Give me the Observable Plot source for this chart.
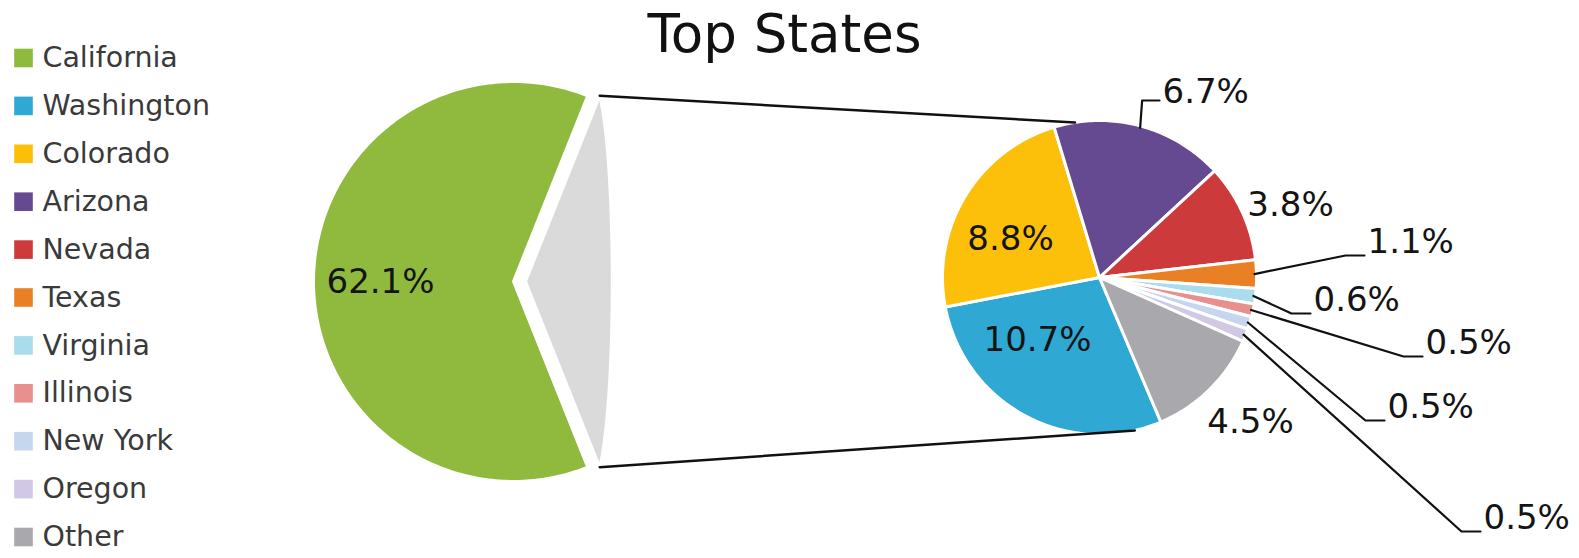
<!DOCTYPE html>
<html>
<head>
<meta charset="utf-8">
<script src="https://cdn.jsdelivr.net/npm/d3@7"></script>
<script src="https://cdn.jsdelivr.net/npm/@observablehq/plot@0.6"></script>
<style>
  body { margin: 0; background: #fff; }
  #chart svg { display: block; }
</style>
</head>
<body>
<div id="chart"></div>
<script>
// ---------------- data ----------------
const mainCategories = ["California", "All others"];
const mainShares = [62.1, 37.9];

const subCategories = ["Washington", "Colorado", "Arizona", "Nevada", "Texas",
  "Virginia", "Illinois", "New York", "Oregon", "Other"];
const subShares = [10.7, 8.8, 6.7, 3.8, 1.1, 0.6, 0.5, 0.5, 0.5, 4.5];

const legendNames = ["California", "Washington", "Colorado", "Arizona", "Nevada",
  "Texas", "Virginia", "Illinois", "New York", "Oregon", "Other"];

const colorDomain = ["California", "All others", ...subCategories];
const colorRange = ["#8fba3e", "#dadada", "#2fa8d4", "#fcbf0a", "#654a91", "#cc3a3c",
  "#ea8025", "#a9dcec", "#e8908e", "#c6d6ee", "#d0c8e4", "#a9a9ad"];

const chartTitle = "Top States";

// ---------------- layout ----------------
const W = 1579, H = 558;
const FONT = "DejaVu Sans";
const big = {cx: 513, cy: 281, r: 200, restShift: 12, restSquash: 0.1};
const small = {cx: 1099, cy: 277, r: 157, start: 157};
// connector endpoints on the small pie (compass degrees)
const connectAngles = [351, 167];
// label placement: offset from the pie centre [dx, dy]; leader = draws a leader line
const subLabelLayout = {
  "Washington": {dx: -62, dy: 63, anchor: "middle"},
  "Colorado":   {dx: -89, dy: -38, anchor: "middle"},
  "Arizona":    {dx: 63, dy: -185, anchor: "start", leader: "up"},
  "Nevada":     {dx: 191, dy: -72, anchor: "middle"},
  "Texas":      {dx: 268, dy: -35, anchor: "start", leader: "side"},
  "Virginia":   {dx: 214, dy: 23, anchor: "start", leader: "side"},
  "Illinois":   {dx: 326, dy: 66, anchor: "start", leader: "side"},
  "New York":   {dx: 288, dy: 130, anchor: "start", leader: "side"},
  "Oregon":     {dx: 384, dy: 241, anchor: "start", leader: "side"},
  "Other":      {dx: 151, dy: 145, anchor: "middle"}
};
const mainLabelOffset = {dx: -133, dy: 1};

// ---------------- geometry helpers ----------------
const rad = (a) => a * Math.PI / 180;
const polar = (cx, cy, r, a) => [cx + r * Math.sin(rad(a)), cy - r * Math.cos(rad(a))];
function arcPoints(cx, cy, r, a0, a1) {
  const n = Math.max(2, Math.ceil(Math.abs(a1 - a0)));
  const pts = [];
  for (let i = 0; i <= n; i++) pts.push(polar(cx, cy, r, a0 + (a1 - a0) * i / n));
  return pts;
}

const slicePts = [];

// big pie: California centred on the left
const bigTotal = d3.sum(mainShares);
const caSpan = mainShares[0] / bigTotal * 360;
const caStart = 270 - caSpan / 2, caEnd = caStart + caSpan;
{
  const pts = [[big.cx, big.cy], ...arcPoints(big.cx, big.cy, big.r, caStart, caEnd)];
  pts.forEach(([x, y]) => slicePts.push({name: mainCategories[0], x, y}));
}
// the rest of the big pie, pulled out and foreshortened
const restStart = caEnd - 360, restEnd = caStart;
const rcx = big.cx + big.restShift;
const restTop = polar(rcx, big.cy, big.r, restStart);
const restBottom = polar(rcx, big.cy, big.r, restEnd);
{
  const chordX = restTop[0];
  const arc = arcPoints(rcx, big.cy, big.r, restStart, restEnd)
    .map(([x, y]) => [chordX + big.restSquash * (x - chordX), y]);
  const pts = [[rcx, big.cy], ...arc];
  pts.forEach(([x, y]) => slicePts.push({name: mainCategories[1], x, y}));
}

// small pie
const subTotal = d3.sum(subShares);
const subAngles = [];
{
  let a = small.start;
  subCategories.forEach((name, i) => {
    const span = subShares[i] / subTotal * 360;
    subAngles.push({name, a0: a, a1: a + span, mid: a + span / 2, value: subShares[i]});
    const pts = [[small.cx, small.cy], ...arcPoints(small.cx, small.cy, small.r, a, a + span)];
    pts.forEach(([x, y]) => slicePts.push({name, x, y}));
    a += span;
  });
}

// connector lines between the pies
const cTop = polar(small.cx, small.cy, small.r, connectAngles[0]);
const cBot = polar(small.cx, small.cy, small.r, connectAngles[1]);
const connectors = [
  {k: "top", x: restTop[0], y: restTop[1]},
  {k: "top", x: cTop[0], y: cTop[1]},
  {k: "bottom", x: restBottom[0], y: restBottom[1]},
  {k: "bottom", x: cBot[0], y: cBot[1]}
];

// labels and leader lines
const fmt = (v) => v.toFixed(1) + "%";
const labels = [];
const leaders = [];
subAngles.forEach((s) => {
  const L = subLabelLayout[s.name];
  const lx = small.cx + L.dx, ly = small.cy + L.dy;
  labels.push({x: lx, y: ly, text: fmt(s.value), anchor: L.anchor});
  if (L.leader) {
    const [ex, ey] = polar(small.cx, small.cy, small.r - 2, s.mid);
    const by = L.leader === "up" ? ly + 8 : ly + 13;
    leaders.push({k: s.name, x: ex, y: ey});
    if (L.leader === "up") leaders.push({k: s.name, x: ex + 2, y: by});
    else leaders.push({k: s.name, x: lx - 22, y: by});
    leaders.push({k: s.name, x: lx - 3, y: by});
  }
});
labels.push({x: big.cx + mainLabelOffset.dx, y: big.cy + mainLabelOffset.dy, text: fmt(mainShares[0]), anchor: "middle"});

const legendRows = legendNames.map((name, i) => ({name, i}));
const legendY = (d) => 57.5 + d.i * 47.9;

const chart = Plot.plot({
  width: W,
  height: H,
  margin: 0,
  x: {domain: [0, W], range: [0, W], axis: null},
  y: {domain: [0, H], range: [0, H], axis: null},
  color: {domain: colorDomain, range: colorRange},
  style: {background: "#fff", fontFamily: FONT},
  marks: [
    Plot.line(slicePts, {x: "x", y: "y", z: "name", fill: "name", stroke: "#fff", strokeWidth: 3, strokeLinejoin: "round", curve: "linear-closed"}),
    Plot.line(connectors, {x: "x", y: "y", z: "k", stroke: "#111", strokeWidth: 2.5}),
    Plot.line(leaders, {x: "x", y: "y", z: "k", stroke: "#111", strokeWidth: 2.2}),
    Plot.text(labels.filter((d) => d.anchor === "middle"), {x: "x", y: "y", text: "text", textAnchor: "middle", fontSize: 34, fill: "#141414", fontFamily: FONT}),
    Plot.text(labels.filter((d) => d.anchor === "start"), {x: "x", y: "y", text: "text", textAnchor: "start", fontSize: 34, fill: "#141414", fontFamily: FONT}),
    Plot.text([chartTitle], {x: () => 784, y: () => 35, text: (d) => d, fontSize: 53, fill: "#111", fontFamily: FONT}),
    Plot.dot(legendRows, {x: () => 23, y: legendY, fill: "name", symbol: "square", r: 10.5}),
    Plot.text(legendRows, {x: () => 42, y: legendY, text: "name", textAnchor: "start", fontSize: 28.5, fill: "#3a3a3a", fontFamily: FONT})
  ]
});
document.getElementById("chart").appendChild(chart);
</script>
</body>
</html>
